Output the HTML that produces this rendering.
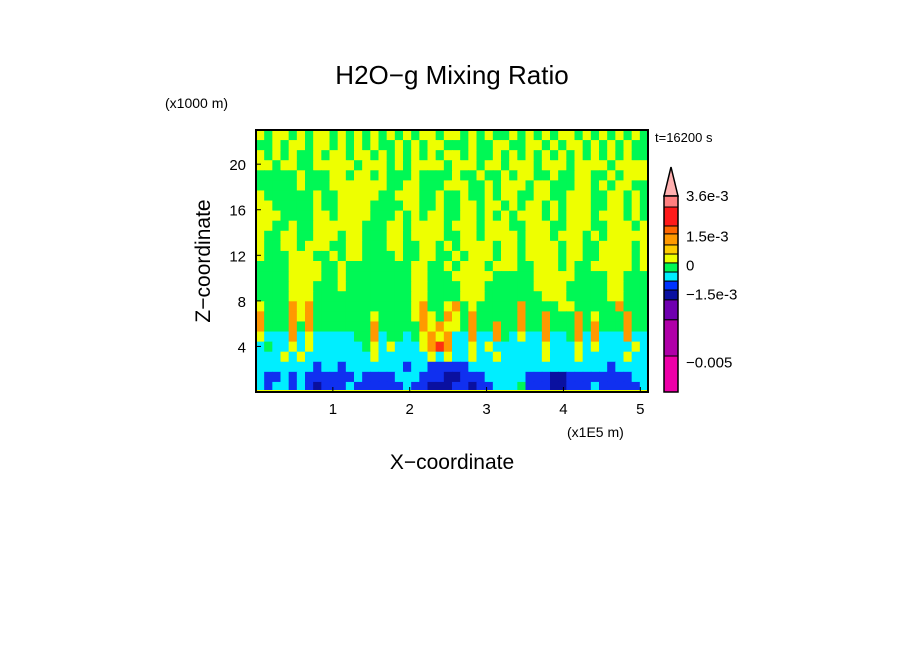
<!DOCTYPE html>
<html><head><meta charset="utf-8">
<style>
body{margin:0;background:#fff;width:904px;height:654px;overflow:hidden;font-family:"Liberation Sans",sans-serif}
svg text{font-family:"Liberation Sans",sans-serif;fill:#000}
</style></head>
<body>
<svg id="chart" width="904" height="654" viewBox="0 0 904 654">
<text x="452" y="84" font-size="26" text-anchor="middle">H2O−g Mixing Ratio</text>
<text x="165" y="108" font-size="14">(x1000 m)</text>
<text x="655" y="142" font-size="13">t=16200 s</text>
<text x="567" y="437" font-size="14">(x1E5 m)</text>
<text x="452" y="469" font-size="21" text-anchor="middle">X−coordinate</text>
<text transform="translate(210,261) rotate(-90)" font-size="21" text-anchor="middle">Z−coordinate</text>
<g id="field"></g>
<g id="axes"></g>
<g id="cbar"></g>
</svg>
<script>
const fieldRows = [
"YGYYGYGYYGYGYGYGYGYGYYGYYGYGYGGYGYGYGYYGYGYGYGYG",
"GGYGYYGYYGYGYGYGGYGYGYYGGGYGGYYGGYYGYGYYGYGYGYGG",
"YGYGYGGYGYYGYYGYGYGYGYGYYGYGGYGYGYGYGYGYGYGYGYGG",
"YYGYYGGYYYYYGYYYGYGYYYYGYYYGYYGYYYGYYYGYYYYGYYYY",
"GGGGGYGGGYYGYYGYGGGYGGGGYGGYGGYGYYGGYGGYYGGYGYYY",
"GGGGGYGGGYYYYYYYGGYYGGGYYYGGYGYYYGYYGGGYYGYGYYGG",
"YGGGGGGYGGYYYYYGGYYYGGYGGYGGYGYYGGYYGGYYYGGYYGYG",
"YYGGGGGYGGYYYYGGGGYYGGYGGYYGYYGYGYYGYGYYYGGYYGYG",
"YYYGGGGYYGYYYYGGGYGYGYYGGYYGYGYGYYYGYGYYYGYYYGYG",
"YYGGYGGYYYYYYGGGYYGYYYYGYYYGYYYGGYYYGGYYYGGYYYGY",
"YGGYYGGYYYGYYGGGYYGYYYYGGYYGYYYYGYYYGYYYGYGYYYYY",
"YGGYYGYYYGGYYGGGYYGGYYGYGYYYYGYYGYYYYGYYGGYYYYGY",
"YGGGYYYGGYGYYGGGGYGGYYGGYGYYYGYYGYYYYGYYGGYYYYGY",
"GGGGYYYYGGYGGGGGGGGYYGGYGYYYGYYYGGYYYGYGGYYYYYGY",
"GGGGYYYYGGYGGGGGGGGYYGGGYYYYYGGGGGYYYYYGGGGYYGGG",
"GGGGYYYGGGYGGGGGGGGYYGGGGYYYGGGGGGYYYYGGGGGYYGGG",
"GGGGYYYGGGGGGGGGGGGYYGGGGYYYGGGGGGGYYYGGGGGYYGGG",
"YGGGOYOGGGGGGGGGGGGYOGGYOGYGGGGGOGGGGYYGGGGGOGGG",
"OGGGOYOGGGGGGGYGGGGYOYGOYGOGGGGGOGGOGGGOGYGGGOGG",
"OGGGOGOGGGGGGGOGGGGGOYOYYGOGGOGGOGGOGGGOGOGGGOGG",
"YCCCOCYCCCCCGGOCGGCGYOYOCCOCCOGCYCCOCCGOCOCCCOCC",
"CGCCYCYCCCCCCGYCYCCCYOROCCYCYCCCCCCYCCCYCYCCCCYC",
"CCCYCYCCCCCCCCYCCCCCCYCYCCYCCYCCCCCYCCCYCCCCCYCC",
"CCCCCCCBCCBCCCCCCCBCCBBBBBCCCCCCCCCCCCCCCCCBCCCC",
"CBBCBCBBBBBBCBBBBCCCBBBDDBBBCCCCCBBBDDBBBBBBBBCC",
"CBCCBCBDBBBCBBBBBBCBBDDDBBDBBCCCGBBBDDBBBCBBBBBC"
];
const levelColors = {Y:"#eeff00",G:"#00f855",C:"#00eeff",B:"#1030f0",D:"#0a10a0",O:"#ff9900",R:"#ff3010"};
const xTicks = [1,2,3,4,5];
const yTicks = [4,8,12,16,20];
const cbarColors = ["#ff7f7f","#ff1a1a","#ff6600","#ff9900","#ffcc00","#eeff00","#00f855","#00eeff","#0033ff","#0a10a0","#7000b0","#b000a8","#ee00a8"];
const cbarBounds = [36,30.3,20.5,16.4,10.7,6,1.4,-3.3,-8,-12.6,-17.7,-28,-46.7,-65.3];
const cbarLabels = ["3.6e-3","1.5e-3","0","−1.5e-3","−0.005"];
const cbarLabelVals = [36,15,0,-15,-50];

const NS="http://www.w3.org/2000/svg";
const X0=256,X1=648,Y0=130,Y1=392;
const xMax=5.1,yMax=23;
const sx=v=>X0+v/xMax*(X1-X0);
const sy=v=>Y1-v/yMax*(Y1-Y0);
function mk(tag,attrs,parent){const e=document.createElementNS(NS,tag);for(const k in attrs)e.setAttribute(k,attrs[k]);parent.appendChild(e);return e;}

const field=document.getElementById('field');
const nR=fieldRows.length,nC=48;
const cw=(X1-X0)/nC,ch=(Y1-Y0)/nR;
fieldRows.forEach((row,r)=>{
  for(let c=0;c<nC;c++){
    const k=row[c]||row[row.length-1];
    const e=mk('rect',{x:X0+c*cw,y:Y0+r*ch,width:cw+0.6,height:ch+0.6,fill:levelColors[k]},field);
    
    
  }
});
const bl=mk('rect',{x:X0,y:Y1-2,width:X1-X0,height:2,fill:"#eeff00"},field);



const axes=document.getElementById('axes');
const fr=mk('rect',{x:X0,y:Y0,width:X1-X0,height:Y1-Y0,fill:"none",stroke:"#000","stroke-width":2},axes);


xTicks.forEach(v=>{
  const x=sx(v);
  mk('line',{x1:x,x2:x,y1:Y1,y2:Y1-5,stroke:"#000","stroke-width":1},axes);
  const t=mk('text',{x:x,y:Y1+22,"font-size":15,"text-anchor":"middle"},axes);
  t.textContent=v;
  
  
});
yTicks.forEach(v=>{
  const y=sy(v);
  mk('line',{x1:X0,x2:X0+5,y1:y,y2:y,stroke:"#000","stroke-width":1},axes);
  const t=mk('text',{x:X0-10,y:y+6,"font-size":15,"text-anchor":"end"},axes);
  t.textContent=v;
  
  
});

const cb=document.getElementById('cbar');
const CX=664,CW=14,CT=196,CB=392;
const vTop=cbarBounds[0],vBot=cbarBounds[cbarBounds.length-1];
const cy=v=>CT+(vTop-v)/(vTop-vBot)*(CB-CT);
const tri=mk('polygon',{points:`${CX},${CT} ${CX+CW},${CT} ${CX+CW/2},167`,fill:"#ffb0b0",stroke:"#000","stroke-width":1.5},cb);


cbarColors.forEach((col,i)=>{
  const y0=cy(cbarBounds[i]),y1=cy(cbarBounds[i+1]);
  const e=mk('rect',{x:CX,y:y0,width:CW,height:y1-y0,fill:col,stroke:"#000","stroke-width":1},cb);
  
  
});
mk('rect',{x:CX,y:CT,width:CW,height:CB-CT,fill:"none",stroke:"#000","stroke-width":1.5},cb);
cbarLabels.forEach((s,i)=>{
  const t=mk('text',{x:686,y:cy(cbarLabelVals[i])+5,"font-size":15},cb);
  t.textContent=s;
  
  
});
</script>
</body></html>
